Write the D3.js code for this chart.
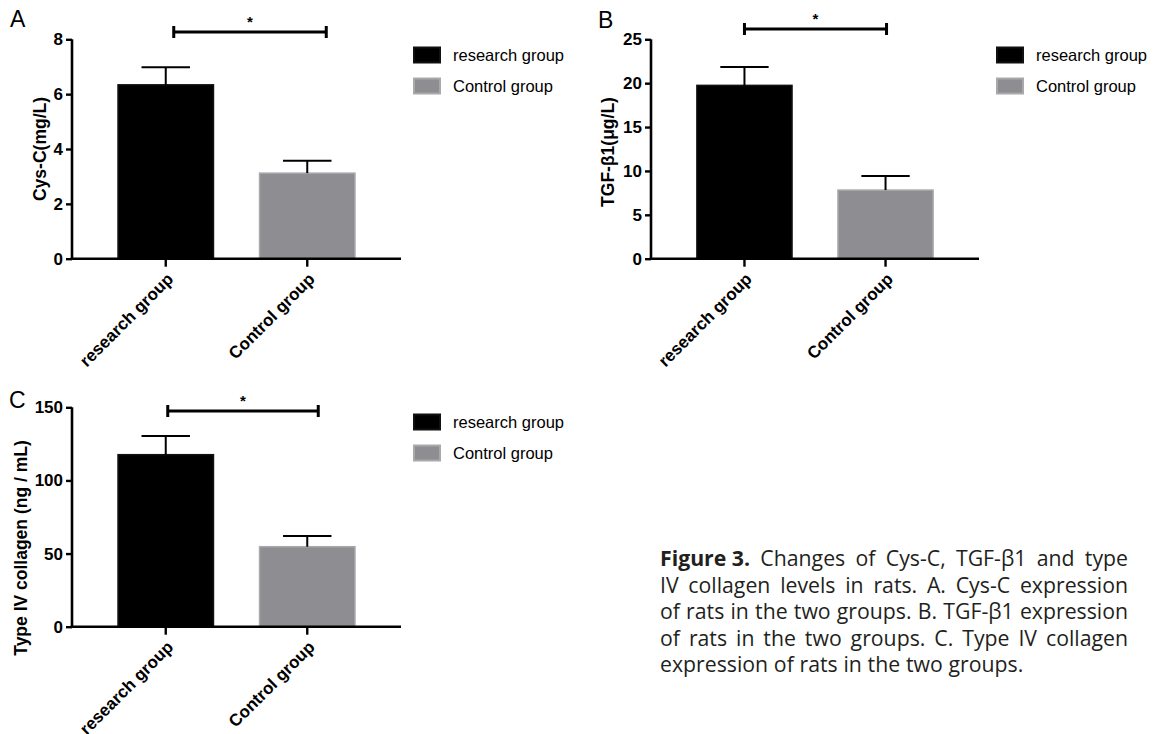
<!DOCTYPE html>
<html>
<head>
<meta charset="utf-8">
<script src="https://cdn.jsdelivr.net/npm/d3@7"></script>
<style>
html,body{margin:0;padding:0;background:#fff;}
svg{display:block;}
</style>
</head>
<body>
<svg id="chart" width="1158" height="734"></svg>
<script>
// ---- data ----
const categories = ["research group", "Control group"];
const cysCMeans = [6.34, 3.12];
const cysCErrors = [0.64, 0.45];
const tgfMeans = [19.75, 7.82];
const tgfErrors = [2.08, 1.60];
const colMeans = [117.6, 54.7];
const colErrors = [12.8, 7.3];
const cysCTicks = [0, 2, 4, 6, 8];
const tgfTicks = [0, 5, 10, 15, 20, 25];
const colTicks = [0, 50, 100, 150];
const legendLabels = ["research group", "Control group"];
const captionBold = "Figure 3.";
const captionLines = [
  "Changes of Cys-C, TGF-β1 and type",
  "IV collagen levels in rats. A. Cys-C expression",
  "of rats in the two groups. B. TGF-β1 expression",
  "of rats in the two groups. C. Type IV collagen",
  "expression of rats in the two groups."
];

// ---- styles / layout ----
const barFills = ["#000000", "#8e8d92"];
const barStrokes = ["#111111", "#a9a9ab"];
const font = "'Liberation Sans', Arial, sans-serif";

const panels = [
  {letter:"A", lx:10, ly:27, means:cysCMeans, errs:cysCErrors, ticks:cysCTicks, max:8,
   title:"Cys-C(mg/L)", titleX:40, titleY:149,
   x0:72, x1:401, yTop:39.3, yBot:258.7,
   sig:{y:32, dx0:8, dx1:19}, legend:{x:413, y:55}},
  {letter:"B", lx:598, ly:28, means:tgfMeans, errs:tgfErrors, ticks:tgfTicks, max:25,
   title:"TGF-β1(μg/L)", titleX:608, titleY:152,
   x0:651, x1:979, yTop:39.3, yBot:258.7,
   sig:{y:29, dx0:0, dx1:1}, legend:{x:996, y:55}},
  {letter:"C", lx:9, ly:408, means:colMeans, errs:colErrors, ticks:colTicks, max:150,
   title:"Type IV collagen (ng / mL)", titleX:21, titleY:548,
   x0:72, x1:401, yTop:407.3, yBot:626.7,
   sig:{y:411, dx0:2, dx1:11}, legend:{x:413, y:422}}
];

const svg = d3.select("#chart");

panels.forEach(p => {
  const g = svg.append("g");
  const x = d3.scaleBand().domain(categories).range([p.x0, p.x1])
    .paddingInner(0.315).paddingOuter(0.32);
  const y = d3.scaleLinear().domain([0, p.max]).range([p.yBot, p.yTop]);

  // panel letter
  g.append("text").attr("x", p.lx).attr("y", p.ly)
    .attr("font-family", font).attr("font-size", 23).text(p.letter);

  // bars
  g.selectAll("rect.bar").data(categories).join("rect")
    .attr("class","bar")
    .attr("x", d => x(d) + 0.75)
    .attr("width", x.bandwidth() - 1.5)
    .attr("y", (d,i) => y(p.means[i]))
    .attr("height", (d,i) => y(0) - y(p.means[i]))
    .attr("fill", (d,i) => barFills[i])
    .attr("stroke", (d,i) => barStrokes[i])
    .attr("stroke-width", 1.5);

  // error bars (upper only)
  const cap = x.bandwidth() / 4;
  categories.forEach((c,i) => {
    const cx = x(c) + x.bandwidth()/2;
    const top = y(p.means[i] + p.errs[i]);
    g.append("line").attr("x1", cx).attr("x2", cx)
      .attr("y1", y(p.means[i])).attr("y2", top)
      .attr("stroke", "#000").attr("stroke-width", 2);
    g.append("line").attr("x1", cx - cap).attr("x2", cx + cap)
      .attr("y1", top).attr("y2", top)
      .attr("stroke", "#000").attr("stroke-width", 2);
  });

  // y axis
  const yAxis = g.append("g").attr("transform", `translate(${p.x0},0)`)
    .call(d3.axisLeft(y).tickValues(p.ticks).tickSize(6).tickPadding(3).tickFormat(d3.format("d")));
  yAxis.select(".domain").attr("stroke","#000").attr("stroke-width",2.6)
    .attr("d", `M0,${p.yTop}V${p.yBot}`);
  yAxis.selectAll(".tick line").attr("stroke","#000").attr("stroke-width",2.4);
  yAxis.selectAll(".tick text").attr("font-family", font).attr("font-weight","bold")
    .attr("font-size", 17).attr("fill","#000");

  // x axis
  const xAxis = g.append("g").attr("transform", `translate(0,${p.yBot})`)
    .call(d3.axisBottom(x).tickSize(8).tickPadding(4));
  xAxis.select(".domain").attr("stroke","#000").attr("stroke-width",2.6)
    .attr("d", `M${p.x0 - 1.3},0H${p.x1}`);
  xAxis.selectAll(".tick line").attr("stroke","#000").attr("stroke-width",2.4);
  xAxis.selectAll(".tick text").attr("font-family", font).attr("font-weight","bold")
    .attr("font-size", 17).attr("fill","#000")
    .attr("text-anchor","end").attr("dy", 0)
    .attr("transform","translate(0,13) rotate(-45)");

  // y title
  g.append("text")
    .attr("transform", `translate(${p.titleX},${p.titleY}) rotate(-90)`)
    .attr("text-anchor","middle").attr("dominant-baseline","central")
    .attr("font-family", font).attr("font-weight","bold").attr("font-size", 17.5)
    .text(p.title);

  // significance bracket
  const sx0 = x(categories[0]) + x.bandwidth()/2 + p.sig.dx0;
  const sx1 = x(categories[1]) + x.bandwidth()/2 + p.sig.dx1;
  g.append("line").attr("x1", sx0).attr("x2", sx1).attr("y1", p.sig.y).attr("y2", p.sig.y)
    .attr("stroke","#000").attr("stroke-width",3);
  [sx0, sx1].forEach(sx => g.append("line").attr("x1", sx).attr("x2", sx)
    .attr("y1", p.sig.y - 6).attr("y2", p.sig.y + 6)
    .attr("stroke","#000").attr("stroke-width",3));
  g.append("text").attr("x", (sx0 + sx1)/2).attr("y", p.sig.y - 5)
    .attr("text-anchor","middle").attr("font-family", font).attr("font-weight","bold")
    .attr("font-size", 15).text("*");

  // legend
  legendLabels.forEach((lab,i) => {
    const ly = p.legend.y + i*31;
    g.append("rect").attr("x", p.legend.x + 1).attr("y", ly - 7.5)
      .attr("width", 26).attr("height", 15)
      .attr("fill", barFills[i]).attr("stroke", barStrokes[i]).attr("stroke-width", 2);
    g.append("text").attr("x", p.legend.x + 40).attr("y", ly)
      .attr("dominant-baseline","central")
      .attr("font-family", font).attr("font-size", 16.5).text(lab);
  });
});

// ---- caption (justified) ----
const capFont = "'Open Sans', 'Noto Sans', sans-serif";
const capX0 = 660, capX1 = 1128;
const baselines = [566, 592.5, 619, 645.5, 672];
const capG = svg.append("g").attr("fill", "#231f20");

// determine font size so last line natural width matches reference (~362px)
let fs = 20;
{
  const t = capG.append("text").attr("font-family", capFont).attr("font-size", fs)
    .text(captionLines[4]);
  const w = t.node().getComputedTextLength();
  fs = fs * 362 / w;
  t.remove();
}

captionLines.forEach((line, li) => {
  const words = line.split(" ");
  const items = [];
  if (li === 0) items.push({t: captionBold, bold: true});
  words.forEach(w => items.push({t: w, bold: false}));
  const nodes = items.map(it => capG.append("text")
    .attr("font-family", capFont).attr("font-size", fs)
    .attr("font-weight", it.bold ? "bold" : "normal")
    .attr("y", baselines[li]).text(it.t));
  const widths = nodes.map(n => n.node().getComputedTextLength());
  const total = d3.sum(widths);
  const justify = li < captionLines.length - 1;
  const gap = justify ? (capX1 - capX0 - total) / (items.length - 1) : fs * 0.27;
  let cx = capX0;
  nodes.forEach((n, i) => { n.attr("x", cx); cx += widths[i] + gap; });
});
</script>
</body>
</html>
